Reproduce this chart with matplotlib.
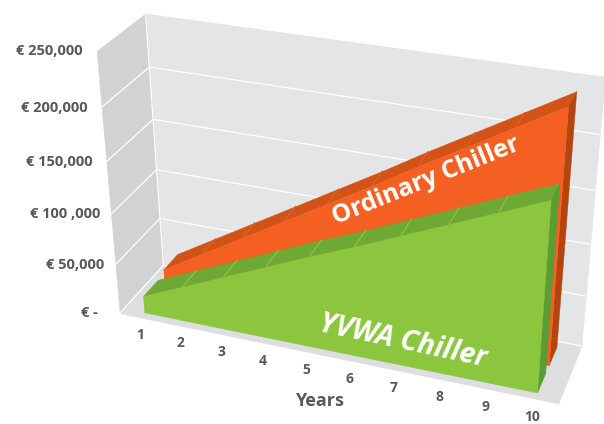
import numpy as np
import matplotlib
matplotlib.use('Agg')
import matplotlib.pyplot as plt
from mpl_toolkits.mplot3d.art3d import Poly3DCollection, Line3DCollection

W, H = 604, 424

years = [1, 2, 3, 4, 5, 6, 7, 8, 9, 10]
ordinary = [21000, 45000, 69000, 93000, 117000, 141000, 166000, 190000, 214000, 238000]
yvwa = [17000, 35000, 53000, 71000, 89000, 106000, 124000, 142000, 160000, 178000]
val_ticks = [0, 50000, 100000, 150000, 200000, 250000]
val_labels = ['€ -', '€ 50,000', '€ 100 ,000', '€ 150,000', '€ 200,000', '€ 250,000']

plt.rcParams['font.family'] = ['Open Sans', 'DejaVu Sans']

fig = plt.figure(figsize=(W/100, H/100), dpi=100)
# square axes, placed so that the box lands on the walls of the picture
side = 557.4
ax = fig.add_axes([59.9/W, -64.9/H, side/W, side/H], projection='3d', computed_zorder=False)
ax.view_init(28.66, -69.96, 0.16)
ax.set_proj_type('persp', focal_length=0.5006)
ax.set_box_aspect((1.5745, 0.3486, 1))
ax.set_xlim(0.5, 10.5)
ax.set_ylim(0, 1)
ax.set_zlim(0, 250000)
ax.set_axis_off()
ax.patch.set_alpha(0)

def face(verts, color, z):
    ax.add_collection3d(Poly3DCollection([verts], facecolors=color, edgecolors=color, linewidths=0.3, zorder=z))

x0, x1 = 0.5, 10.5
zt = 250000
face([(x0, 1, 0), (x1, 1, 0), (x1, 1, zt), (x0, 1, zt)], '#E4E5E7', 1)
face([(x0, 0, 0), (x0, 1, 0), (x0, 1, zt), (x0, 0, zt)], '#D1D2D4', 1)
face([(x0, 0, 0), (x1, 0, 0), (x1, 1, 0), (x0, 1, 0)], '#DDDEE0', 1)

# gridlines on the walls
grid = []
for v in val_ticks:
    grid.append([(x0, 0, v), (x0, 1, v)])
    grid.append([(x0, 1, v), (x1, 1, v)])
grid.append([(x0, 1, 0), (x0, 1, zt)])
ax.add_collection3d(Line3DCollection(grid, colors='white', linewidths=0.9, zorder=2))

def area(vals, y0, y1, c_front, c_top, c_side, c_rib, z):
    xs = years
    # top band
    for i in range(len(xs)-1):
        face([(xs[i], y0, vals[i]), (xs[i+1], y0, vals[i+1]), (xs[i+1], y1, vals[i+1]), (xs[i], y1, vals[i])], c_top, z)
    ribs = [[(xs[i], y0, vals[i]), (xs[i], y1, vals[i])] for i in range(1, len(xs)-1)]
    ax.add_collection3d(Line3DCollection(ribs, colors=c_rib, linewidths=0.8, zorder=z+1))
    # right end
    face([(xs[-1], y0, 0), (xs[-1], y1, 0), (xs[-1], y1, vals[-1]), (xs[-1], y0, vals[-1])], c_side, z+2)
    # front
    pts = [(x, y0, v) for x, v in zip(xs, vals)]
    face([(xs[0], y0, 0)] + pts + [(xs[-1], y0, 0)], c_front, z+3)

area(ordinary, 0.57, 0.90, '#F46022', '#D25317', '#B5450F', '#E0601E', 10)
area(yvwa, 0.10, 0.43, '#8CC63F', '#6EA936', '#5A9C35', '#8CC63F', 20)

def px_text(x, y, s, **kw):
    fig.text(x/W, 1-y/H, s, **kw)

lab_x = [98, 104, 100, 93, 88, 83]
lab_y = [313, 265, 214, 162, 108, 51]
for s, x, y in zip(val_labels, lab_x, lab_y):
    px_text(x, y, s, ha='right', va='center', fontsize=10.5, fontweight='bold', color='#595959')

yr_x = [140, 180, 221, 263, 306, 350, 394, 439, 485, 532]
yr_y = [335, 343, 352, 361, 370, 379, 388, 397, 407, 417]
for s, x, y in zip(years, yr_x, yr_y):
    px_text(x, y, str(s), ha='center', va='center', fontsize=10, fontweight='bold', color='#595959')

px_text(319, 401, 'Years', ha='center', va='center', fontsize=13, fontweight='bold', color='#595959')
px_text(426, 181, 'Ordinary Chiller', ha='center', va='center', rotation=22, rotation_mode='anchor',
        fontsize=18, fontweight='bold', color='white')
px_text(403, 341, 'YVWA Chiller', ha='center', va='center', rotation=-12, rotation_mode='anchor',
        fontsize=20.5, fontweight='bold', style='italic', color='white')

fig.savefig('out.png', dpi=100)
